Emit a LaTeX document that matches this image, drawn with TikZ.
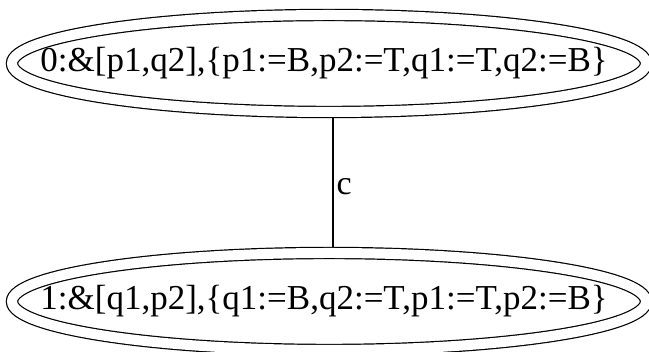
\documentclass[tikz,border=0pt]{standalone}
\usepackage{fontspec}
\setmainfont{Liberation Serif}
\tikzset{
  statetext/.style={inner sep=0pt, font=\fontsize{35}{40}\selectfont},
  ring/.style={line width=1.2pt, double, double distance=10pt},
  trans/.style={line width=1.2pt},
}
\begin{document}
\begin{tikzpicture}[x=1pt,y=1pt]
\useasboundingbox (0,0) rectangle (649,352);
\node[statetext] (s0) at (324,288.5) {0:\&[p1,q2],\{p1:=B,p2:=T,q1:=T,q2:=B\}};
\node[statetext] (s1) at (324,50.5) {1:\&[q1,p2],\{q1:=B,q2:=T,p1:=T,p2:=B\}};
% double rings round the states
\draw[ring] ([xshift=5]s0.center) ellipse [x radius=317, y radius=48.5];
\draw[ring] ([xshift=5]s1.center) ellipse [x radius=317, y radius=48.5];
\draw[trans] ([xshift=9,yshift=-54.5]s0.center) -- ([xshift=9,yshift=54.5]s1.center)
  node[midway, right, inner sep=3pt, yshift=-4pt, font=\fontsize{34}{38}\selectfont] {c};
\end{tikzpicture}
\end{document}
